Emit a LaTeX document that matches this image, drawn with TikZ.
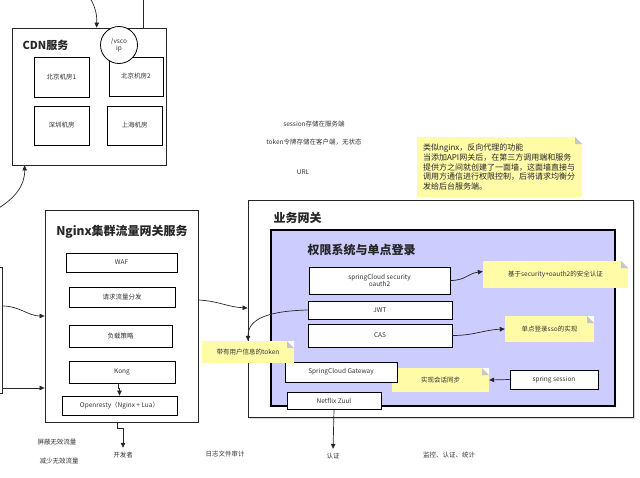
\documentclass[tikz,border=0pt]{standalone}
\usepackage{fontspec}
\setmainfont{Noto Sans CJK SC}
\usetikzlibrary{arrows.meta,calc}
\definecolor{notey}{HTML}{FFFBA6}
\definecolor{lav}{HTML}{CCCCFF}
\definecolor{txt}{HTML}{333333}
\begin{document}
\begin{tikzpicture}[x=1pt,y=-1pt,
  box/.style={draw=black, fill=white, line width=0.8pt, inner sep=1pt, font=\fontsize{6.5}{7.5}\selectfont, text=txt, align=center},
  container/.style={draw=black!85, fill=white, line width=0.8pt},
  ttl/.style={font=\bfseries\fontsize{12}{14}\selectfont, text=black!85},
  note/.style={fill=notey, inner sep=2pt, font=\fontsize{6.5}{8}\selectfont, text=txt, align=center,
    path picture={
      \fill[white] ($(path picture bounding box.north east)+(-7pt,0pt)$) -- (path picture bounding box.north east) -- ++(0pt,-7pt) -- cycle;
      \fill[gray!45] ($(path picture bounding box.north east)+(-7pt,0pt)$) -- ++(0pt,-7pt) -- ++(7pt,0pt) -- cycle;
    }},
  lbl/.style={font=\fontsize{6.5}{8}\selectfont, text=txt, inner sep=1pt},
  arr/.style={-{Triangle[length=5pt,width=4.5pt]}, line width=0.7pt, draw=black!85},
  conn/.style={line width=0.7pt, draw=black!85}
]
\useasboundingbox (0,0) rectangle (640,477);

% ---------- CDN ----------
\node[container, minimum width=154pt, minimum height=137pt] (cdn) at (89,96.5) {};
\node[ttl, font=\bfseries\fontsize{11}{13}\selectfont, anchor=west] (cdnt) at (19,45) {CDN服务};
\node[box, minimum width=55pt, minimum height=40pt] (r1) at (61.5,77) {北京机房1};
\node[box, minimum width=54pt, minimum height=39pt] (r2) at (136,76.5) {北京机房2};
\node[box, minimum width=55pt, minimum height=39pt] (r3) at (61.5,125.5) {深圳机房};
\node[box, minimum width=55pt, minimum height=39pt] (r4) at (134.5,125.5) {上海机房};
\node[circle, draw=black, fill=white, line width=0.8pt, minimum size=37pt, inner sep=0pt, align=center,
      font=\fontsize{6.5}{7.5}\selectfont, text=txt] (vip) at (119,45) {/vsco\\ip};

\coordinate (t1) at (90,-2);
\coordinate (t2) at (143,-2);
\draw[arr] (t1) .. controls (96,8) and (97,16) .. ($(cdn.north west)+(85,0)$);
\draw[conn] (t2) -- (t2 |- cdn.north);

% ---------- left partial box ----------
\node[container, minimum width=20pt, minimum height=126pt, anchor=east] (lb) at (3,330) {};
\coordinate (l1) at (-3,209);
\draw[arr] (l1) .. controls (14,199) and (25,186) .. ($(cdn.south west)+(13,0)$);

% ---------- Nginx ----------
\node[container, minimum width=153pt, minimum height=212pt] (ngx) at (121.5,316) {};
\node[ttl] (ngxt) at (122,232) {Nginx集群流量网关服务};
\node[box, minimum width=111pt, minimum height=19pt] (waf) at (121.5,262.5) {WAF};
\node[box, minimum width=106pt, minimum height=20pt] (flow) at (122,297) {请求流量分发};
\node[box, minimum width=103pt, minimum height=22pt] (lbal) at (120.5,336) {负载策略};
\node[box, minimum width=106pt, minimum height=22pt] (kong) at (122,372) {Kong};
\node[box, minimum width=115pt, minimum height=19pt] (ors) at (119.5,405.5) {Openresty（Nginx + Lua）};

\draw[arr] ($(kong.south)+(-4,0)$) -- ++(0,5) -| (ors.north);
\draw[arr] ($(lb.east)+(0,-24)$) .. controls +(16,0) and +(-16,0) .. (ngx.west);
\draw[arr] ($(lb.east)+(0,58)$) -- (ngx.west |- {$(lb.east)+(0,58)$});

% ---------- bottom labels ----------
\node[lbl] (b1) at (57,442) {屏蔽无效流量};
\node[lbl] (b2) at (59,461) {减少无效流量};
\node[lbl] (dev) at (123,455) {开发者};
\node[lbl] (log) at (225,454) {日志文件审计};
\node[lbl] (rz) at (333,456) {认证};
\node[lbl] (mon) at (449,455) {监控、认证、统计};

\draw[arr, shorten >=3pt] ($(ngx.south)+(-4,0)$) -- ++(0,6) -| (dev.north);

% ---------- top middle texts ----------
\node[lbl] (s1) at (314,124) {session存储在服务端};
\node[lbl] (s2) at (314,142) {token令牌存储在客户端，无状态};
\node[lbl] (s3) at (303,172) {URL};

\node[note, minimum width=165pt, minimum height=60pt, text width=153pt, align=left, inner sep=6pt,
      font=\fontsize{8}{9.8}\selectfont, text=black!85] (bignote) at (499.5,167)
  {类似nginx，反向代理的功能\\当添加API网关后，在第三方调用端和服务\\提供方之间就创建了一面墙，这面墙直接与\\调用方通信进行权限控制，后将请求均衡分\\发给后台服务端。};

% ---------- business gateway ----------
\fill[gray!30] (249.5,201.5) rectangle (634.5,418.5);
\node[container, minimum width=385pt, minimum height=217pt] (biz) at (440.5,308.5) {};
\node[ttl, anchor=west] (bizt) at (270,218) {业务网关};
\node[draw=black, fill=lav, line width=1.1pt, minimum width=344pt, minimum height=176pt] (auth) at (443,318) {};
\node[ttl, anchor=west] (autht) at (304,250) {权限系统与单点登录};

\node[box, minimum width=141pt, minimum height=27pt] (oa) at (379.5,280.5) {springCloud security\\oauth2};
\node[box, minimum width=144pt, minimum height=18pt] (jwt) at (380,310) {JWT};
\node[box, minimum width=144pt, minimum height=23pt] (cas) at (380,335.5) {CAS};
\node[note, minimum width=97pt, minimum height=24pt] (nses) at (440.5,380) {实现会话同步};
\node[box, minimum width=112pt, minimum height=20pt] (gw) at (341,372) {SpringCloud Gateway};
\node[box, minimum width=94pt, minimum height=17pt] (zuul) at (334,400.5) {Netflix Zuul};
\node[box, minimum width=88pt, minimum height=19pt] (ss) at (554,379.5) {spring session};

\node[note, minimum width=145pt, minimum height=27pt] (noa) at (555.5,274.5) {基于security+oauth2的安全认证};
\node[note, minimum width=89pt, minimum height=26pt] (nsso) at (549.5,329) {单点登录sso的实现};
\node[note, minimum width=92pt, minimum height=22pt] (tok) at (248,352) {带有用户信息的token};

% ---------- connectors ----------
\draw[arr] ($(ngx.east)+(0,-16)$) .. controls +(20,1) and +(-20,-1) .. ($(biz.west)+(0,-0.5)$);
\draw[arr] (jwt.west) .. controls (270,311) and (248,318) .. (tok.north);
\draw[arr] (oa.east) .. controls +(15,0) and +(-15,2) .. ($(noa.west)+(0,-3)$);
\draw[arr] (cas.east) .. controls +(22,0) and +(-22,1) .. (nsso.west);
\draw[arr] (ss.west) -- (nses.east);
\draw[arr, shorten >=3pt] (zuul.south) -- (rz.north);
\end{tikzpicture}
\end{document}
